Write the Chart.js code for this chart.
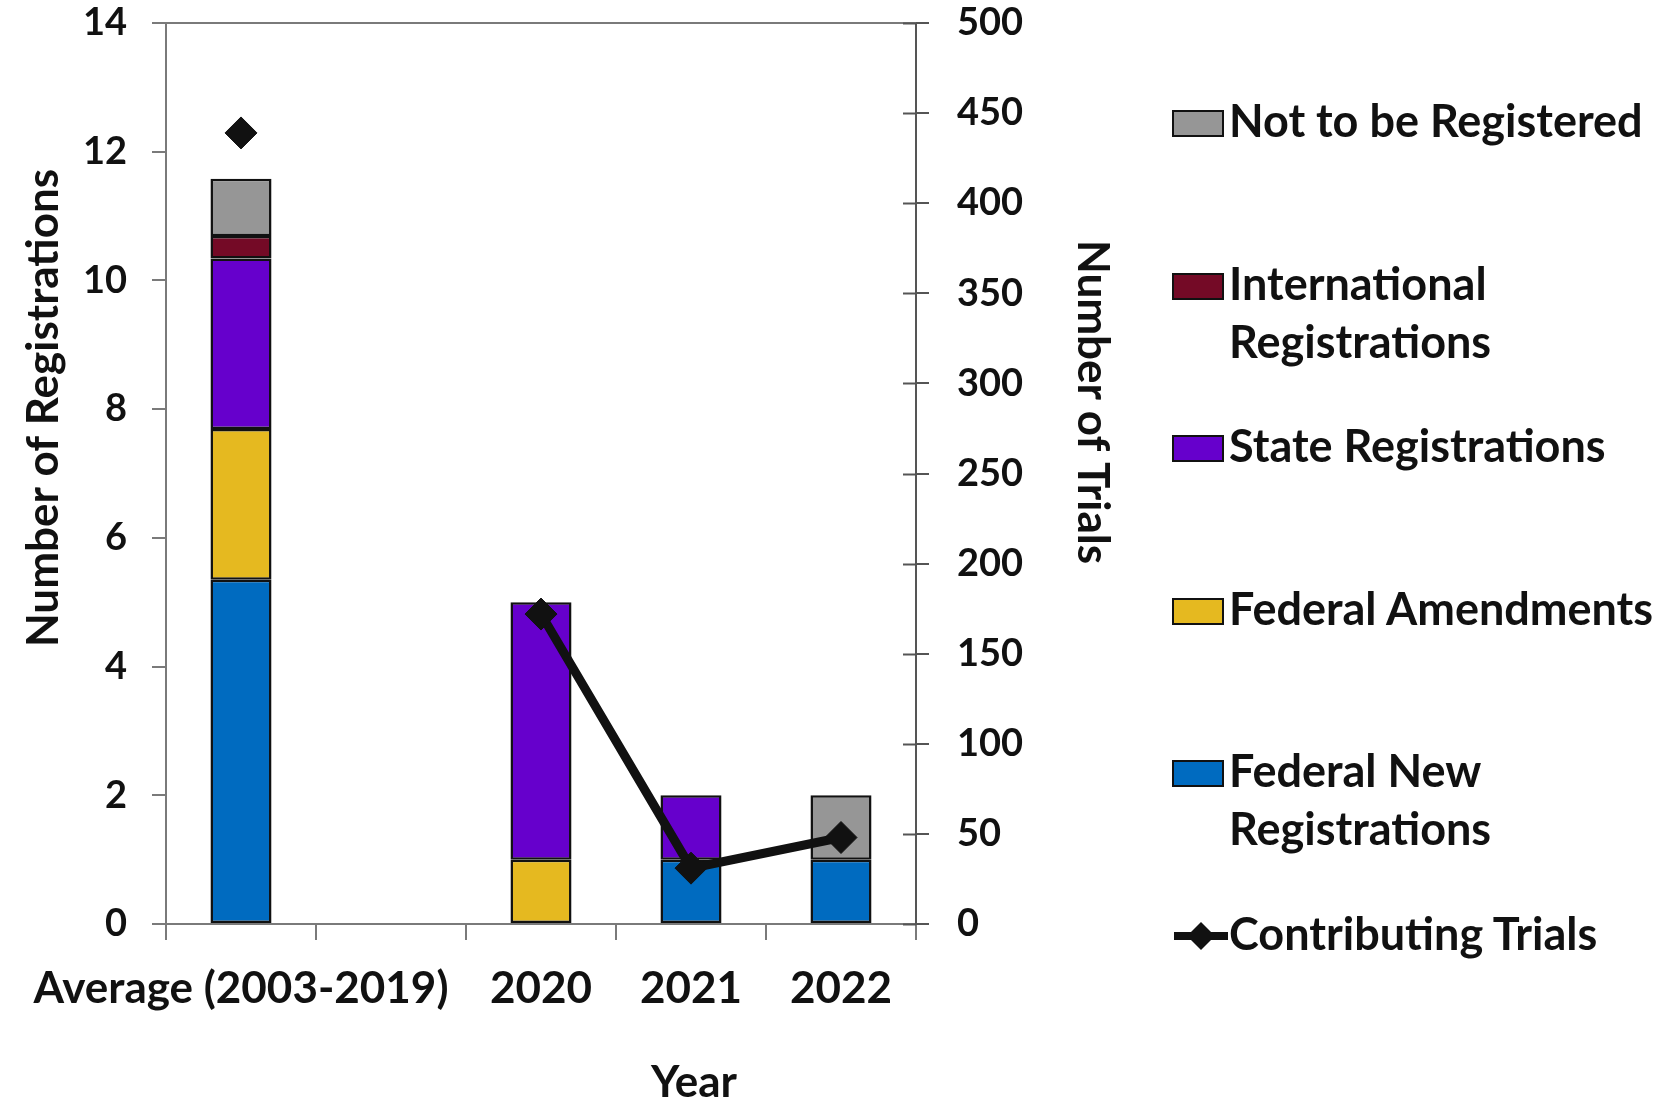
<!DOCTYPE html>
<html>
<head>
<meta charset="utf-8">
<script src="https://cdn.jsdelivr.net/npm/chart.js@4.4.1/dist/chart.umd.min.js"></script>
<style>
  html, body { margin: 0; padding: 0; background: #fff; }
  #wrap { position: relative; width: 1680px; height: 1101px; overflow: hidden; }
  #c { position: absolute; left: 0; top: 0; }
  .lg { position: absolute; left: 1229px; font: bold 45px Lato, sans-serif; color: #111; line-height: 58px; white-space: nowrap; }
  .lg .box { position: absolute; left: -57px; top: 19px; width: 48px; height: 23px; border: 2px solid #111; }
  .lg svg { position: absolute; left: -57px; top: 14px; }
</style>
</head>
<body>
<div id="wrap">
  <canvas id="c" width="1680" height="1101"></canvas>
  <div id="legend"></div>
</div>
<script>
// ---- data ----
const categories = ["Average (2003-2019)", "", "2020", "2021", "2022"];
const federalNew   = [5.35, null, null, 1, 1];
const federalAmend = [2.34, null, 1, null, null];
const stateReg     = [2.65, null, 4, 1, null];
const intlReg      = [0.35, null, null, null, null];
const notReg       = [0.89, null, null, null, 1];
const trials       = [439, null, 172, 31, 48];

const leftTicks = { min: 0, max: 14, step: 2 };
const rightTicks = { min: 0, max: 500, step: 50 };

const seriesNames = ["Federal New Registrations", "Federal Amendments", "State Registrations", "International Registrations", "Not to be Registered"];
const legendLines = [["Not to be Registered"], ["International", "Registrations"], ["State Registrations"], ["Federal Amendments"], ["Federal New", "Registrations"]];
const lineName = "Contributing Trials";
const yTitle = "Number of Registrations";
const y2Title = "Number of Trials";
const xTitle = "Year";

// ---- styles ----
const colors = ["#006bc0", "#e5b920", "#6600cc", "#740a26", "#969696"];
const FONT = "Lato";
const tickFont = { family: FONT, weight: "bold", size: 38 };
const xTickFont = { family: FONT, weight: "bold", size: 44 };
const axisGray = "#7a7a7a";

const barSets = [federalNew, federalAmend, stateReg, intlReg, notReg].map((d, i) => ({
  type: "bar",
  label: seriesNames[i],
  data: d,
  backgroundColor: colors[i],
  borderColor: "#111",
  borderWidth: 2.5,
  borderSkipped: false,
  yAxisID: "y",
  stack: "s",
  order: 1,
  categoryPercentage: 1.0,
  barPercentage: 0.407
}));

const lineSet = {
  type: "line",
  label: lineName,
  data: trials,
  yAxisID: "y2",
  borderColor: "#111",
  borderWidth: 9,
  backgroundColor: "#111",
  pointStyle: "rectRot",
  pointRadius: 16,
  pointBorderWidth: 1,
  pointBackgroundColor: "#111",
  pointBorderColor: "#111",
  spanGaps: false,
  fill: false,
  tension: 0,
  order: 0
};

const noPad = s => { s.paddingTop = 0; s.paddingBottom = 0; s.paddingLeft = 0; s.paddingRight = 0; };

const extras = {
  id: "extras",
  afterDraw(chart) {
    const { ctx, chartArea: a } = chart;
    ctx.save();
    // top border
    ctx.strokeStyle = axisGray;
    ctx.lineWidth = 2;
    ctx.beginPath();
    ctx.moveTo(a.left, a.top);
    ctx.lineTo(a.right, a.top);
    ctx.stroke();
    // inner ticks on right axis
    const s2 = chart.scales.y2;
    ctx.strokeStyle = "#555";
    s2.ticks.forEach(t => {
      const y = Math.round(s2.getPixelForValue(t.value)) + 0.5;
      ctx.beginPath();
      ctx.moveTo(a.right - 13, y);
      ctx.lineTo(a.right, y);
      ctx.stroke();
    });
    // axis titles
    ctx.fillStyle = "#111";
    ctx.font = "bold 44px " + FONT;
    ctx.textAlign = "center";
    ctx.textBaseline = "middle";
    ctx.save();
    ctx.translate(a.left - 122, a.top + 385);
    ctx.rotate(-Math.PI / 2);
    ctx.fillText(yTitle, 0, 0);
    ctx.restore();
    ctx.save();
    ctx.translate(a.right + 176, a.top + 379);
    ctx.rotate(Math.PI / 2);
    ctx.fillText(y2Title, 0, 0);
    ctx.restore();
    ctx.textBaseline = "alphabetic";
    ctx.fillText(xTitle, a.left + 528, 1097);
    ctx.restore();
  }
};

const chart = new Chart(document.getElementById("c"), {
  data: { labels: categories, datasets: [...barSets, lineSet] },
  options: {
    responsive: false,
    animation: false,
    layout: { padding: { left: 0, right: 564, top: 23, bottom: 0 } },
    plugins: { legend: { display: false }, tooltip: { enabled: false } },
    scales: {
      x: {
        stacked: true,
        offset: true,
        grid: { offset: true, drawOnChartArea: false, drawTicks: true, tickLength: 16, color: axisGray, lineWidth: 2 },
        border: { display: true, color: axisGray, width: 2 },
        ticks: { font: xTickFont, color: "#111", padding: 22, maxRotation: 0, autoSkip: false },
        afterFit: s => { noPad(s); s.height = 177; }
      },
      y: {
        position: "left",
        stacked: true,
        min: leftTicks.min, max: leftTicks.max,
        grid: { drawOnChartArea: false, drawTicks: true, tickLength: 14, color: axisGray, lineWidth: 2 },
        border: { display: true, color: axisGray, width: 2 },
        ticks: { stepSize: leftTicks.step, font: tickFont, color: "#111", padding: 25 },
        afterFit: s => { noPad(s); s.width = 166; }
      },
      y2: {
        position: "right",
        min: rightTicks.min, max: rightTicks.max,
        grid: { drawOnChartArea: false, drawTicks: true, tickLength: 13, color: "#555", lineWidth: 2 },
        border: { display: true, color: "#555", width: 2 },
        ticks: { stepSize: rightTicks.step, font: tickFont, color: "#111", padding: 28 },
        afterFit: s => { noPad(s); s.width = 200; }
      }
    }
  },
  plugins: [extras]
});

// ---- HTML legend built from the datasets ----
const legendEl = document.getElementById("legend");
const legendTops = [91, 253.7, 416, 578.7, 741, 903.7];
const legendOrder = [4, 3, 2, 1, 0];
legendOrder.forEach((dsIdx, k) => {
  const ds = chart.data.datasets[dsIdx];
  const div = document.createElement("div");
  div.className = "lg";
  div.style.top = legendTops[k] + "px";
  const box = document.createElement("span");
  box.className = "box";
  box.style.background = ds.backgroundColor;
  div.appendChild(box);
  legendLines[k].forEach((t, j) => {
    if (j) div.appendChild(document.createElement("br"));
    div.appendChild(document.createTextNode(t));
  });
  legendEl.appendChild(div);
});
(() => {
  const div = document.createElement("div");
  div.className = "lg";
  div.style.top = legendTops[5] + "px";
  div.innerHTML = '<svg width="58" height="40" viewBox="0 0 58 40"><line x1="2" y1="18" x2="56" y2="18" stroke="#111" stroke-width="8"/><polygon points="29,4 43,18 29,32 15,18" fill="#111"/></svg>';
  div.appendChild(document.createTextNode(lineSet.label));
  legendEl.appendChild(div);
})();
</script>
</body>
</html>
